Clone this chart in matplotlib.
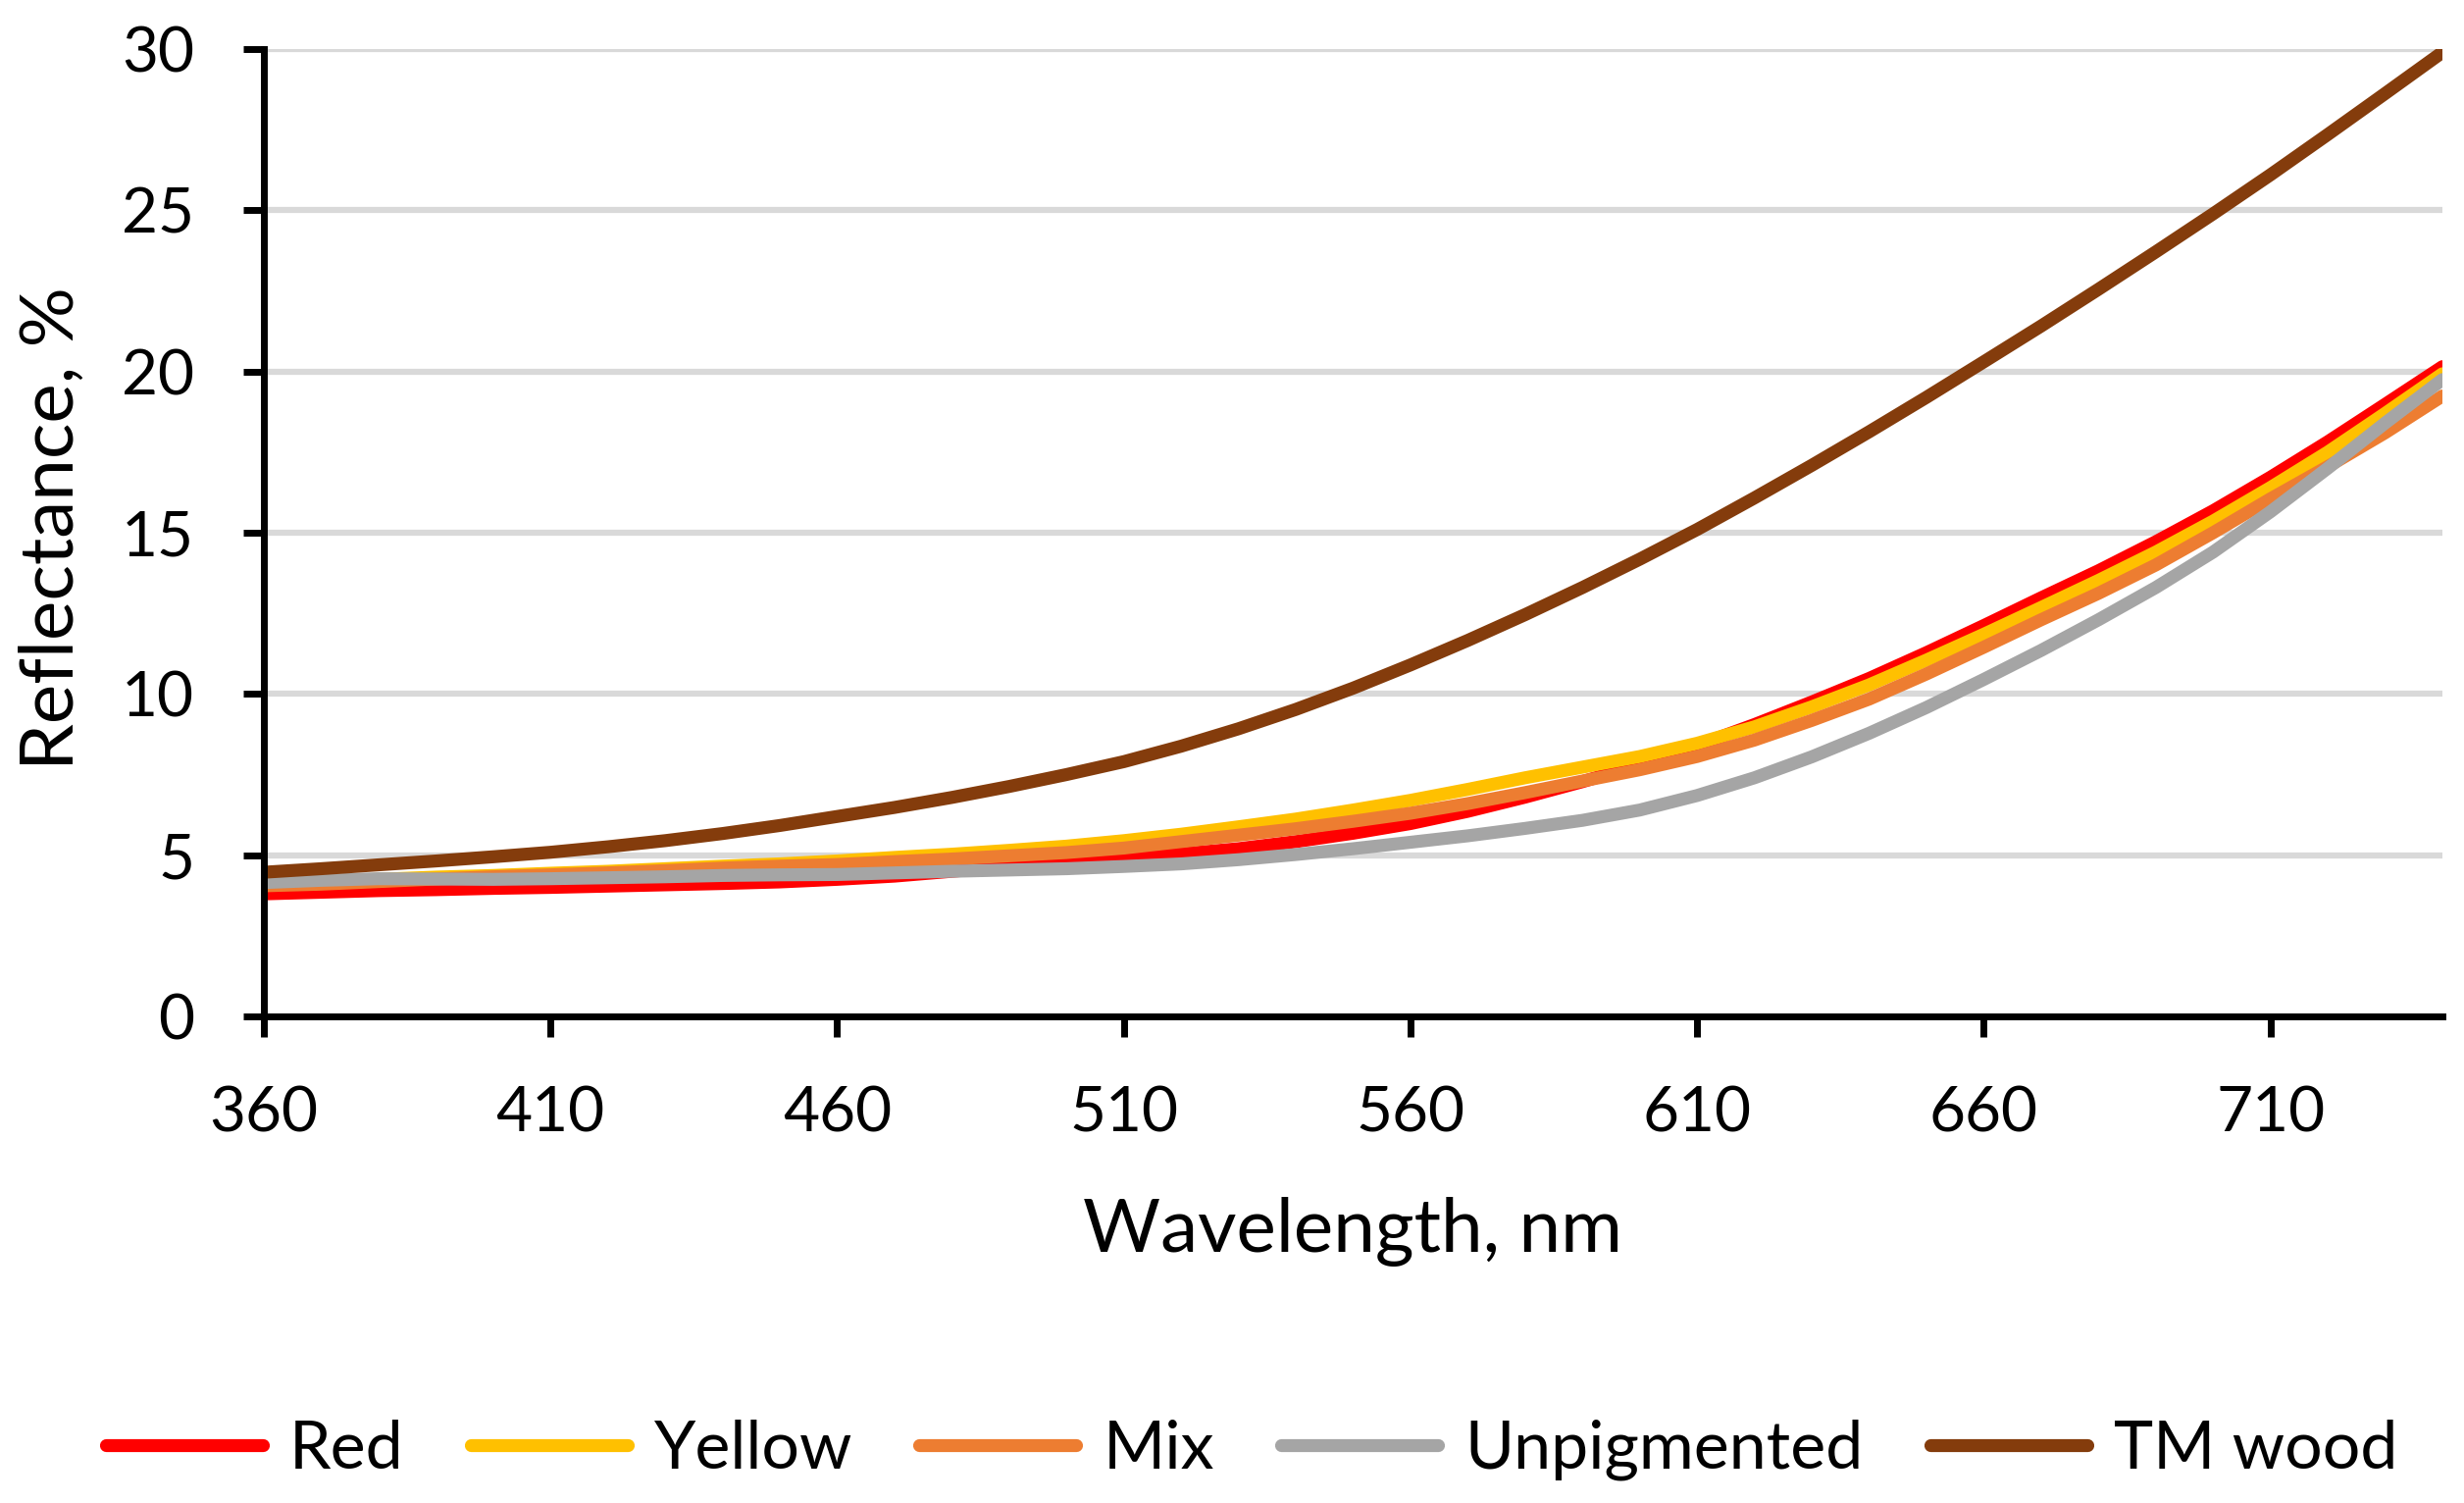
import matplotlib
matplotlib.use("Agg")
import matplotlib.pyplot as plt

wavelength = [360, 370, 380, 390, 400, 410, 420, 430, 440, 450, 460, 470, 480, 490,
              500, 510, 520, 530, 540, 550, 560, 570, 580, 590, 600, 610, 620, 630,
              640, 650, 660, 670, 680, 690, 700, 710, 720, 730, 740]

red = [3.80, 3.85, 3.90, 3.93, 3.97, 4.00, 4.04, 4.08, 4.12, 4.17, 4.25, 4.35, 4.50, 4.65,
       4.80, 4.92, 5.04, 5.20, 5.42, 5.68, 5.98, 6.36, 6.80, 7.28, 7.80, 8.40, 9.05, 9.75,
       10.48, 11.28, 12.12, 12.98, 13.82, 14.72, 15.68, 16.72, 17.82, 18.98, 20.15]

yellow = [4.10, 4.18, 4.25, 4.32, 4.37, 4.44, 4.50, 4.58, 4.66, 4.73, 4.82, 4.93, 5.03, 5.15,
          5.28, 5.45, 5.65, 5.88, 6.12, 6.40, 6.70, 7.04, 7.40, 7.73, 8.06, 8.47, 8.98, 9.60,
          10.28, 11.05, 11.85, 12.68, 13.52, 14.40, 15.36, 16.40, 17.50, 18.70, 19.93]

mix = [4.05, 4.10, 4.18, 4.26, 4.33, 4.39, 4.45, 4.52, 4.60, 4.66, 4.71, 4.80, 4.88, 4.98,
       5.08, 5.22, 5.42, 5.62, 5.82, 6.05, 6.30, 6.60, 6.94, 7.30, 7.65, 8.06, 8.57, 9.18,
       9.84, 10.62, 11.45, 12.30, 13.12, 14.00, 15.00, 16.05, 17.05, 18.10, 19.24]

unpigmented = [4.15, 4.22, 4.27, 4.26, 4.25, 4.27, 4.30, 4.33, 4.37, 4.39, 4.40, 4.45, 4.50, 4.54,
               4.58, 4.65, 4.73, 4.86, 5.02, 5.20, 5.40, 5.60, 5.83, 6.08, 6.40, 6.85, 7.40, 8.05,
               8.78, 9.58, 10.45, 11.35, 12.30, 13.30, 14.40, 15.65, 17.00, 18.40, 19.75]

tm_wood = [4.47, 4.58, 4.70, 4.82, 4.95, 5.09, 5.26, 5.45, 5.67, 5.92, 6.20, 6.48, 6.79, 7.13,
           7.50, 7.90, 8.38, 8.92, 9.52, 10.18, 10.90, 11.66, 12.46, 13.30, 14.18, 15.10, 16.08, 17.09,
           18.13, 19.20, 20.30, 21.41, 22.55, 23.71, 24.89, 26.10, 27.35, 28.62, 29.90]

series_names = ["Red", "Yellow", "Mix", "Unpigmented", "TM wood"]
series_colors = ["#FF0000", "#FFC000", "#ED7D31", "#A5A5A5", "#843C0C"]
series_values = [red, yellow, mix, unpigmented, tm_wood]

x_ticks = [360, 410, 460, 510, 560, 610, 660, 710]
y_ticks = [0, 5, 10, 15, 20, 25, 30]

plt.rcParams['font.family'] = ['Lato', 'DejaVu Sans']

fig = plt.figure(figsize=(25.12, 15.32), dpi=100)
ax = fig.add_axes([269 / 2512, 1 - 1036 / 1532, (2490 - 269) / 2512, (1036 - 50) / 1532])

for name, color, vals in zip(series_names, series_colors, series_values):
    ax.plot(wavelength, vals, color=color, lw=9.5, label=name,
            solid_capstyle='round', solid_joinstyle='round', zorder=3)

ax.set_xlim(360, 740)
ax.set_ylim(0, 30)
ax.set_xticks(x_ticks)
ax.set_yticks(y_ticks)
ax.grid(axis='y', color='#D9D9D9', lw=4.5, zorder=0)
ax.set_axisbelow(True)

for s in ['top', 'right']:
    ax.spines[s].set_visible(False)
for s in ['left', 'bottom']:
    ax.spines[s].set_linewidth(5)
    ax.spines[s].set_color('black')
    ax.spines[s].set_zorder(4)

ax.tick_params(axis='both', which='major', direction='out', length=15, width=5,
               labelsize=46, colors='black')
ax.tick_params(axis='y', pad=36)
ax.tick_params(axis='x', pad=36)

ax.set_xlabel("Wavelength, nm", fontsize=55)
ax.set_ylabel("Reflectance, %", fontsize=55)
ax.xaxis.set_label_coords(0.5, -0.223)
ax.xaxis.label.set_verticalalignment('center')
ax.yaxis.set_label_coords(-0.0973, 0.504)
ax.yaxis.label.set_verticalalignment('center')

fig.legend(loc='center', bbox_to_anchor=(0.508, 1 - 1478 / 1532), ncol=5,
           frameon=False, fontsize=49, handlelength=2.35, handletextpad=0.4,
           columnspacing=1.0)

fig.savefig("out.png", dpi=100)
